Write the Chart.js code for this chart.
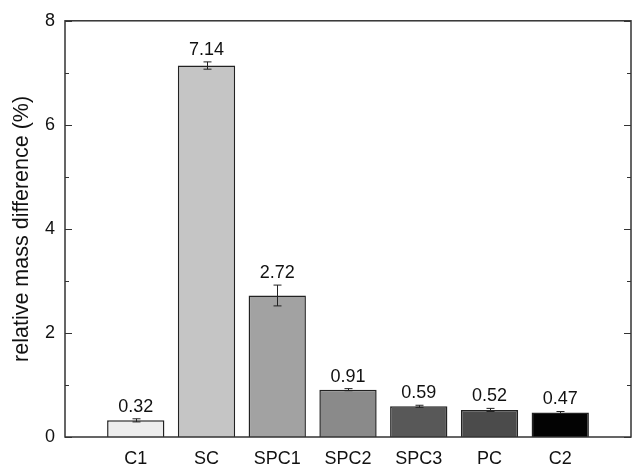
<!DOCTYPE html>
<html><head><meta charset="utf-8">
<script src="https://cdn.jsdelivr.net/npm/chart.js@4/dist/chart.umd.min.js"></script>
<style>html,body{margin:0;padding:0;background:#fff}#wrap{width:636px;height:466px}</style>
</head><body><div id="wrap"><canvas id="c" width="636" height="466"></canvas></div>
<script>
const categories = ['C1','SC','SPC1','SPC2','SPC3','PC','C2'];
const values = [0.32, 7.14, 2.72, 0.91, 0.59, 0.52, 0.47];
const errors = [0.03, 0.07, 0.20, 0.02, 0.02, 0.03, 0.02];
const valueLabels = ['0.32','7.14','2.72','0.91','0.59','0.52','0.47'];
const barColors = ['#ededed','#c5c5c5','#a2a2a2','#8a8a8a','#585858','#4b4b4b','#030303'];
const yTicks = [0,2,4,6,8];

const FONT = 'Liberation Sans, Arial, sans-serif';
const frameColor = '#333333';

const overlay = {
  id:'overlay',
  afterDatasetsDraw(chart){
    const ctx = chart.ctx, x = chart.scales.x, y = chart.scales.y, a = chart.chartArea;
    ctx.save();
    ctx.strokeStyle = '#222'; ctx.lineWidth = 1;
    values.forEach((v,i)=>{
      const px = Math.round(x.getPixelForValue(i+1))+0.5;
      const yt = y.getPixelForValue(v+errors[i]), yb = y.getPixelForValue(v-errors[i]);
      ctx.beginPath();
      ctx.moveTo(px,yt); ctx.lineTo(px,yb);
      ctx.moveTo(px-4,yt); ctx.lineTo(px+4,yt);
      ctx.moveTo(px-4,yb); ctx.lineTo(px+4,yb);
      ctx.stroke();
    });
    ctx.fillStyle = '#111'; ctx.font = '18px '+FONT;
    ctx.textAlign='center'; ctx.textBaseline='bottom';
    values.forEach((v,i)=>{
      const px = x.getPixelForValue(i+1);
      const yt = y.getPixelForValue(v+errors[i]);
      ctx.fillText(valueLabels[i], px, yt-3);
    });
    ctx.strokeStyle = frameColor; ctx.lineWidth = 1.5;
    ctx.strokeRect(a.left, a.top, a.right-a.left, a.bottom-a.top);
    ctx.lineWidth = 1.2;
    for(let t=0;t<=8;t++){
      const py = Math.round(y.getPixelForValue(t))+0.5;
      const len = (t%2===0)?7:4;
      ctx.beginPath();
      ctx.moveTo(a.left,py); ctx.lineTo(a.left+len,py);
      ctx.moveTo(a.right,py); ctx.lineTo(a.right-len,py);
      ctx.stroke();
    }
    ctx.restore();
  }
};

new Chart(document.getElementById('c'),{
  type:'bar',
  data:{
    datasets:[{
      data: values.map((v,i)=>({x:i+1,y:v})),
      backgroundColor: barColors,
      borderColor:'#222', borderWidth:1.5,
      categoryPercentage:1, barPercentage:0.81
    }]
  },
  options:{
    responsive:false, animation:false,
    layout:{padding:{left:0,right:5,top:19,bottom:0}},
    plugins:{legend:{display:false},tooltip:{enabled:false}},
    scales:{
      x:{type:'linear', min:0, max:8, offset:false,
        grid:{display:false, drawTicks:false}, border:{display:false},
        afterBuildTicks(s){ s.ticks = categories.map((c,i)=>({value:i+1})); },
        ticks:{callback:(v)=>categories[v-1]||'', color:'#111', font:{family:FONT,size:18}, padding:11, maxRotation:0, autoSkip:false},
        afterFit(s){ s.height = 29; }
      },
      y:{min:0, max:8,
        afterBuildTicks(s){ s.ticks = yTicks.map(v=>({value:v})); },
        grid:{display:false, drawTicks:false}, border:{display:false},
        ticks:{color:'#111', font:{family:FONT,size:18}, padding:10},
        title:{display:true, text:'relative mass difference (%)', color:'#111', font:{family:FONT,size:21.5}, padding:{top:9,bottom:0}},
        afterFit(s){ s.width = 65; }
      }
    }
  },
  plugins:[overlay]
});
</script>
</body></html>
